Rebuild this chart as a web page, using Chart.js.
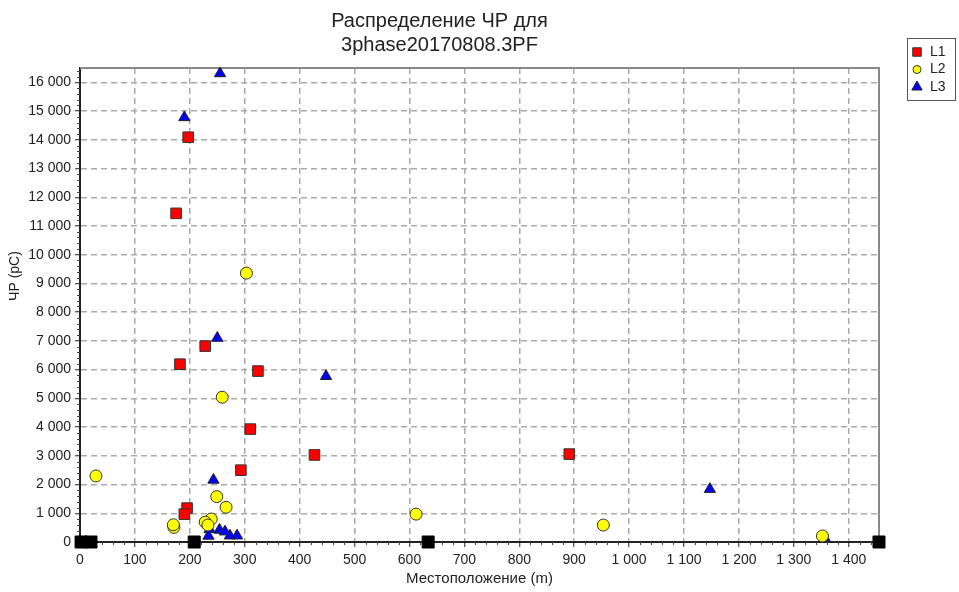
<!DOCTYPE html>
<html>
<head>
<meta charset="utf-8">
<script src="https://cdn.jsdelivr.net/npm/chart.js@4/dist/chart.umd.min.js"></script>
<style>body{margin:0;background:#fff}</style>
</head>
<body>
<canvas id="pd-chart" width="959" height="592"></canvas>
<script>
// values
const l1X = [197, 175, 182, 228, 324, 310, 293, 427, 891, 195, 190];
const l1Y = [14090, 11440, 6190, 6820, 5950, 3930, 2500, 3030, 3060, 1180, 970];

const l2X = [29, 303, 259, 612, 953, 1352, 171, 249, 266, 239, 228, 233, 170];
const l2Y = [2300, 9360, 5040, 970, 590, 210, 510, 1580, 1210, 800, 690, 590, 600];

const l3X = [255, 190, 250, 448, 1147, 1356, 243, 236, 234, 254, 264, 273, 286];
const l3Y = [16310, 14780, 7100, 5770, 1840, 140, 2160, 440, 210, 420, 360, 220, 220];

// black markers sitting on the x axis
const stationX = [2, 20, 208, 634, 1455];
const stationY = [0, 0, 0, 0, 0];

const xTicks = [0, 100, 200, 300, 400, 500, 600, 700, 800, 900, 1000, 1100, 1200, 1300, 1400];
const yTicks = [0, 1000, 2000, 3000, 4000, 5000, 6000, 7000, 8000, 9000, 10000,
                11000, 12000, 13000, 14000, 15000, 16000];
const xMax = 1455, xMinor = 20;
const yMax = 16500, yMinor = 200;

const pts = (xs, ys) => xs.map((x, i) => ({x: x, y: ys[i]}));
const spaced = v => String(v).replace(/\B(?=(\d{3})+(?!\d))/g, ' ');
const FONT = "'Liberation Sans', Arial, sans-serif";

Chart.defaults.font.family = FONT;
Chart.defaults.font.size = 14;
Chart.defaults.color = '#222';

// frame, minor ticks, y title and boxed legend
const extras = {
  id: 'extras',
  beforeDatasetsDraw(chart) {
    const {ctx, chartArea: a, scales} = chart;
    ctx.save();
    ctx.strokeStyle = '#888';
    ctx.lineWidth = 2;
    ctx.beginPath();
    ctx.moveTo(a.left, a.top); ctx.lineTo(a.right, a.top); ctx.lineTo(a.right, a.bottom);
    ctx.stroke();
    ctx.strokeStyle = '#444';
    ctx.lineWidth = 1;
    ctx.beginPath();
    for (let v = 0; v <= xMax; v += xMinor) {
      if (xTicks.includes(v)) continue;
      const px = Math.round(scales.x.getPixelForValue(v)) + 0.5;
      ctx.moveTo(px, a.bottom); ctx.lineTo(px, a.bottom + 3);
    }
    for (let v = 0; v <= yMax; v += yMinor) {
      if (yTicks.includes(v)) continue;
      const py = Math.round(scales.y.getPixelForValue(v)) + 0.5;
      ctx.moveTo(a.left - 3, py); ctx.lineTo(a.left, py);
    }
    ctx.stroke();

    ctx.translate(15, 276);
    ctx.rotate(-Math.PI / 2);
    ctx.font = '14px ' + FONT;
    ctx.fillStyle = '#222';
    ctx.textAlign = 'center';
    ctx.textBaseline = 'middle';
    ctx.fillText('ЧР (pC)', 0, 0);
    ctx.restore();
  },
  afterDraw(chart) {
    const ctx = chart.ctx;
    ctx.save();
    ctx.strokeStyle = '#555';
    ctx.lineWidth = 1;
    ctx.strokeRect(907.5, 38.5, 48, 62);
    ctx.font = '14px ' + FONT;
    ctx.textBaseline = 'middle';
    chart.data.datasets.slice(0, 3).forEach((ds, i) => {
      const y = 52 + i * 17.5;
      ctx.fillStyle = ds.backgroundColor;
      ctx.strokeStyle = ds.borderColor;
      ctx.lineWidth = 1;
      Chart.helpers.drawPoint(ctx, {pointStyle: ds.pointStyle, radius: ds.pointStyle === 'circle' ? 4 : 6, borderWidth: 1}, 917, y);
      ctx.fillStyle = '#222';
      ctx.fillText(ds.label, 930, y);
    });
    ctx.restore();
  }
};

new Chart(document.getElementById('pd-chart'), {
  type: 'scatter',
  data: {
    datasets: [
      {label: 'L1', data: pts(l1X, l1Y), pointStyle: 'rect', pointRadius: 7.5, backgroundColor: '#ff0000', borderColor: '#333', borderWidth: 1, clip: false},
      {label: 'L2', data: pts(l2X, l2Y), pointStyle: 'circle', pointRadius: 6, backgroundColor: '#ffff00', borderColor: '#333', borderWidth: 1, clip: false},
      {label: 'L3', data: pts(l3X, l3Y), pointStyle: 'triangle', pointRadius: 6.5, backgroundColor: '#0000ff', borderColor: '#222', borderWidth: 1, clip: false},
      {label: 'stations', data: pts(stationX, stationY), pointStyle: 'rect', pointRadius: 8.5, backgroundColor: '#000', borderColor: '#000', borderWidth: 1, clip: false}
    ]
  },
  options: {
    responsive: false,
    animation: false,
    layout: {padding: {left: 0, right: 80, top: 0, bottom: 2}},
    scales: {
      x: {
        type: 'linear', min: 0, max: xMax,
        afterBuildTicks: s => { s.ticks = xTicks.map(v => ({value: v})); },
        afterFit: s => { s.height = 48; },
        ticks: {padding: 5, autoSkip: false, maxRotation: 0, callback: v => spaced(v)},
        grid: {color: '#aaa', lineWidth: 1.5, tickLength: 5, tickColor: '#222', tickWidth: 1},
        border: {color: '#222', width: 2, dash: [6, 4]},
        title: {display: true, text: 'Местоположение (m)', font: {size: 15}, padding: {top: 2, bottom: 2}}
      },
      y: {
        type: 'linear', min: 0, max: yMax,
        afterBuildTicks: s => { s.ticks = yTicks.map(v => ({value: v})); },
        afterFit: s => { s.width = 80; },
        ticks: {padding: 4, autoSkip: false, callback: v => spaced(v)},
        grid: {color: '#aaa', lineWidth: 1.5, tickLength: 5, tickColor: '#222', tickWidth: 1},
        border: {color: '#222', width: 2, dash: [6, 4]}
      }
    },
    plugins: {
      legend: {display: false},
      tooltip: {enabled: false},
      title: {
        display: true,
        text: ['Распределение ЧР для', '3phase20170808.3PF'],
        font: {size: 20, weight: 'normal', lineHeight: 1.2},
        color: '#222',
        padding: {top: 9, bottom: 11}
      }
    }
  },
  plugins: [extras]
});
</script>
</body>
</html>
